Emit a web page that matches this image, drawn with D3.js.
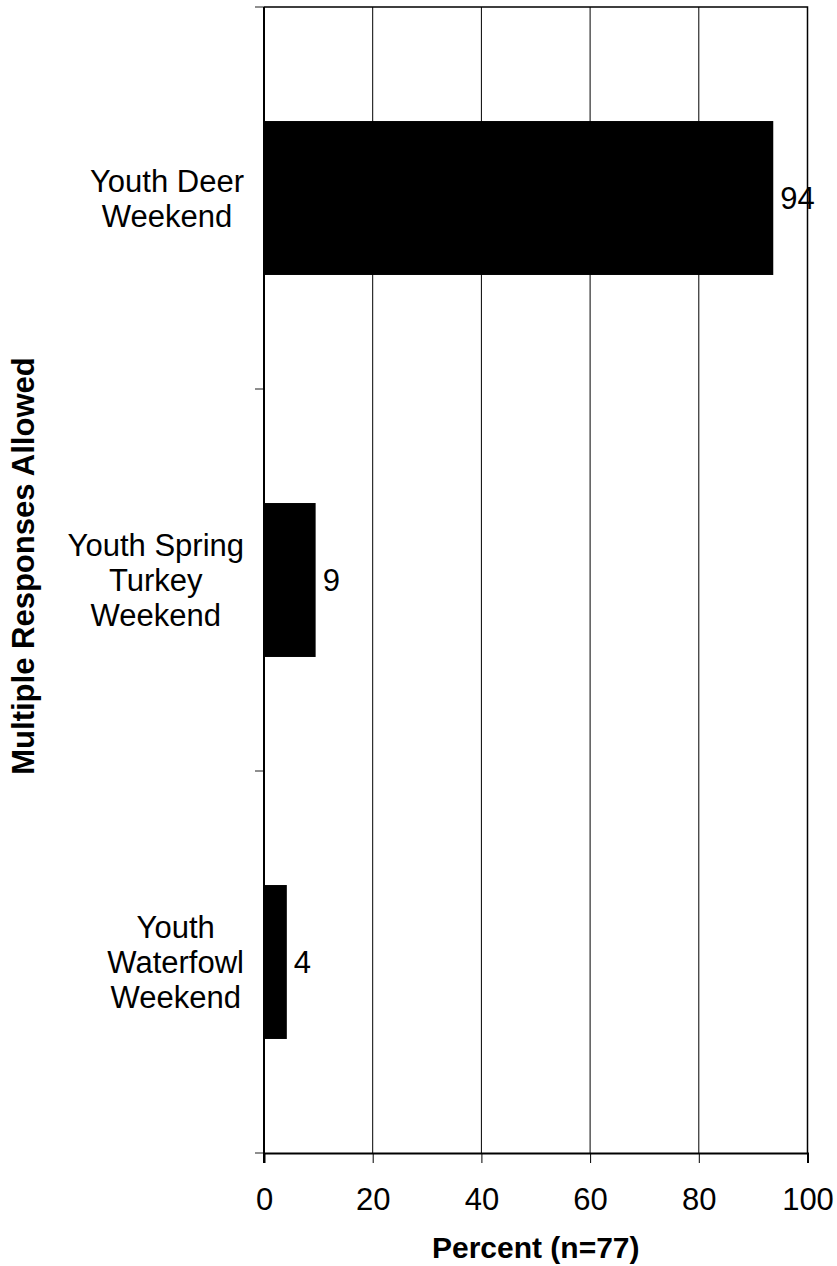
<!DOCTYPE html>
<html>
<head>
<meta charset="utf-8">
<script src="https://cdn.jsdelivr.net/npm/d3@7"></script>
<style>
  html, body { margin: 0; padding: 0; background: #fff; }
  svg { display: block; }
  text { font-family: "Liberation Sans", Arial, sans-serif; fill: #000; }
</style>
</head>
<body>
<svg id="chart" width="837" height="1266"></svg>
<script>
const categories = ["Youth Deer Weekend", "Youth Spring Turkey Weekend", "Youth Waterfowl Weekend"];
const categoryLines = [["Youth Deer", "Weekend"], ["Youth Spring", "Turkey", "Weekend"], ["Youth", "Waterfowl", "Weekend"]];
const values = [93.7, 9.5, 4.2];
const valueLabels = ["94", "9", "4"];
const xTicks = [0, 20, 40, 60, 80, 100];
const xTitle = "Percent (n=77)";
const yTitle = "Multiple Responses Allowed";

const W = 837, H = 1266;
const m = { top: 7, right: 29.5, bottom: 113, left: 264 };
const svg = d3.select("#chart");
const FS = 31;

const x = d3.scaleLinear().domain([0, 100]).range([m.left, W - m.right]);
const y = d3.scaleBand().domain(categories).range([m.top, H - m.bottom]).padding(0);
const barH = y.bandwidth() * 0.403;

// gridlines
svg.append("g").selectAll("line").data(xTicks.slice(1, -1)).join("line")
  .attr("x1", d => x(d)).attr("x2", d => x(d))
  .attr("y1", m.top).attr("y2", H - m.bottom)
  .attr("stroke", "#000").attr("stroke-width", 1);

// bars
svg.append("g").selectAll("rect").data(values).join("rect")
  .attr("x", x(0))
  .attr("y", (d, i) => y(categories[i]) + (y.bandwidth() - barH) / 2)
  .attr("width", d => x(d) - x(0))
  .attr("height", barH)
  .attr("fill", "#000");

// plot border (top & right)
svg.append("path")
  .attr("d", `M${x(0)},${m.top}H${x(100)}V${H - m.bottom}`)
  .attr("fill", "none").attr("stroke", "#000").attr("stroke-width", 1.5);

// x axis
const xAxis = d3.axisBottom(x).tickValues(xTicks).tickSize(10).tickPadding(14).tickFormat(d3.format("d"));
const gx = svg.append("g").attr("transform", `translate(0,${H - m.bottom})`).call(xAxis);
gx.select(".domain").attr("stroke", "#000").attr("stroke-width", 2);
gx.selectAll(".tick line").attr("stroke", "#000").attr("stroke-width", 1);
gx.selectAll(".tick text").attr("font-size", FS).attr("font-family", "Liberation Sans, Arial, sans-serif")
  .attr("dy", null).attr("y", 57);

// y axis (ticks at category boundaries)
const boundaries = categories.map(c => y(c)).concat([H - m.bottom]);
svg.append("g").selectAll("line").data(boundaries).join("line")
  .attr("x1", x(0) - 9).attr("x2", x(0))
  .attr("y1", d => d).attr("y2", d => d)
  .attr("stroke", "#444").attr("stroke-width", 1.2);
svg.append("line")
  .attr("x1", x(0)).attr("x2", x(0))
  .attr("y1", m.top).attr("y2", H - m.bottom + 10)
  .attr("stroke", "#000").attr("stroke-width", 2);

// category labels
const labelRight = 244;
const lineH = 35;
categories.forEach((c, i) => {
  const lines = categoryLines[i];
  const cy = y(c) + y.bandwidth() / 2;
  const g = svg.append("g");
  const t = g.selectAll("text").data(lines).join("text")
    .attr("font-size", FS)
    .attr("text-anchor", "middle")
    .attr("y", (d, j) => cy + 11 + (j - (lines.length - 1) / 2) * lineH)
    .text(d => d);
  let maxW = 0;
  t.each(function () { maxW = Math.max(maxW, this.getComputedTextLength()); });
  t.attr("x", labelRight - maxW / 2);
});

// value labels
svg.append("g").selectAll("text").data(values).join("text")
  .attr("x", d => x(d) + 7)
  .attr("y", (d, i) => y(categories[i]) + y.bandwidth() / 2 + 11)
  .attr("font-size", FS)
  .text((d, i) => valueLabels[i]);

// x title
svg.append("text")
  .attr("x", (x(0) + x(100)) / 2).attr("y", 1258)
  .attr("text-anchor", "middle").attr("font-size", 30).attr("font-weight", "bold")
  .text(xTitle);

// y title
svg.append("text")
  .attr("transform", `translate(34,566) rotate(-90)`)
  .attr("text-anchor", "middle").attr("font-size", 31).attr("font-weight", "bold")
  .text(yTitle);
</script>
</body>
</html>
